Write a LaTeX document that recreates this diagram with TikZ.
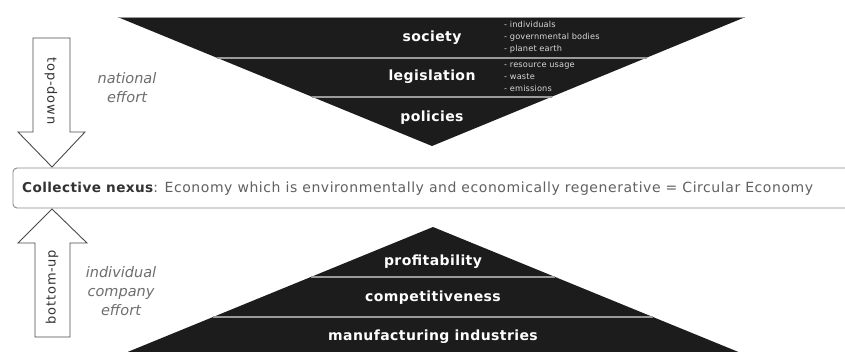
\documentclass[tikz,border=0pt]{standalone}
\usepackage{fontspec}
\setmainfont{DejaVu Sans}
\newfontfamily\trackfont[LetterSpace=3]{DejaVu Sans}
\newfontfamily\nexusfont[LetterSpace=4]{DejaVu Sans}
\newfontfamily\widefont[LetterSpace=6]{DejaVu Sans}
\newfontfamily\bulletfont[LetterSpace=2]{DejaVu Sans}
\definecolor{tri}{HTML}{1C1C1C}
\definecolor{sep}{HTML}{9A9A9A}
\definecolor{itgray}{HTML}{6E6E6E}
\definecolor{boxline}{HTML}{8A8A8A}
\definecolor{arrowline}{HTML}{4A4A4A}
\tikzset{
  trilabel/.style={text=white, font=\trackfont\bfseries\fontsize{14}{16}\selectfont, inner sep=0pt},
  bullets/.style={text=white!85!black, font=\bulletfont\fontsize{8.2}{12}\selectfont, align=left, anchor=north west, inner sep=0pt},
  seprule/.style={draw=sep, line width=1.5pt},
  effort/.style={text=itgray, font=\itshape\fontsize{14.5}{19}\selectfont, align=center, inner sep=0pt},
  fatarrow/.style={draw=arrowline, fill=white, line width=0.9pt, line join=miter},
  arrowlabel/.style={text=black!80, font=\widefont\fontsize{13}{14}\selectfont, inner sep=0pt},
}
\begin{document}
\begin{tikzpicture}[x=1pt,y=-1pt]
\useasboundingbox (0,0) rectangle (845,351);
\clip (0,0) rectangle (845,351);
\fill[white] (0,0) rectangle (845,351);
% top inverted triangle
\fill[tri] (120,18) -- (743,18) -- (432,146) -- cycle;
\draw[seprule] (118,17.5) -- (745,17.5);
\draw[seprule] (217,58) -- (647,58);
\draw[seprule] (312,97) -- (552,97);
\node[trilabel] (society) at (432,38) {society};
\node[trilabel] (legis) at (432,77) {legislation};
\node[trilabel] (policies) at (432,118) {policies};
\node[bullets] (b1) at (504,21.5) {- individuals\\- governmental bodies\\- planet earth};
\node[bullets] (b2) at (504,62.5) {- resource usage\\- waste\\- emissions};
% bottom triangle
\fill[tri] (433,227) -- (758,360) -- (108,360) -- cycle;
\draw[seprule] (311,277) -- (555,277);
\draw[seprule] (213,317) -- (653,317);
\node[trilabel] (profit) at (433,262) {profitability};
\node[trilabel] (compet) at (433,298) {competitiveness};
\node[trilabel] (manuf) at (433,337) {manufacturing industries};
% collective nexus box
\draw[draw=boxline, line width=0.9pt, rounded corners=4pt] (13,168) rectangle (870,208);
\node[anchor=west, inner sep=0pt] (nexus) at (22,189)
  {\textcolor{black!80}{\trackfont\bfseries\fontsize{13.6}{16}\selectfont Collective nexus}\textcolor{black!62}{\nexusfont\fontsize{14}{16}\selectfont: Economy which is environmentally and economically regenerative = Circular Economy}};
% arrows
\draw[fatarrow] (33,38) -- (70,38) -- (70,132) -- (85,132) -- (52,167) -- (18,132) -- (33,132) -- cycle;
\node[arrowlabel, rotate=-90] (td) at (51,91) {top-down};
\draw[fatarrow] (35,337) -- (70,337) -- (70,243) -- (87,243) -- (52,209) -- (18,243) -- (35,243) -- cycle;
\node[arrowlabel, rotate=90] (bu) at (52,287) {bottom-up};
% effort labels
\node[effort] (nat) at (127,88) {national\\effort};
\node[effort] (ind) at (121,291) {individual\\company\\effort};
\end{tikzpicture}
\end{document}
